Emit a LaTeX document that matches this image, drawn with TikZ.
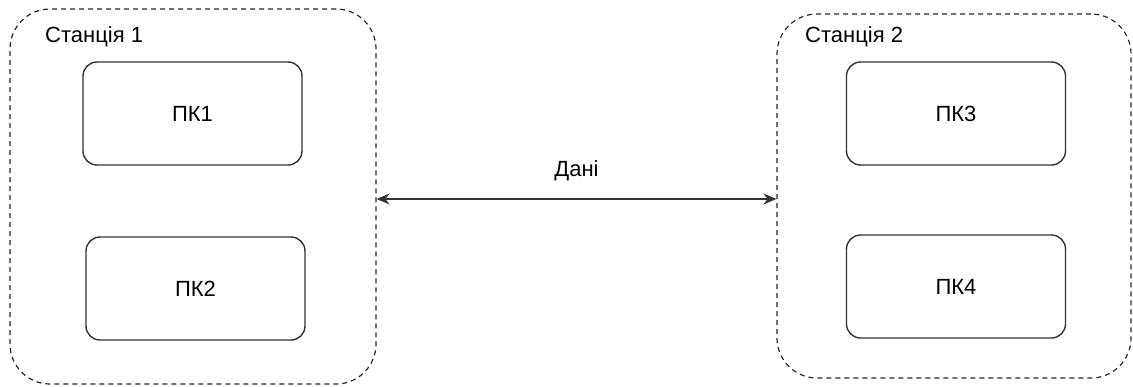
\documentclass[tikz,border=0pt]{standalone}
\usepackage{fontspec}
\setmainfont{Liberation Sans}
\usetikzlibrary{arrows.meta,positioning}

\begin{document}
\begin{tikzpicture}[
  x=1pt, y=-1pt,
  every node/.style={font=\fontsize{22}{26}\selectfont},
  station/.style={draw=black!85, dash pattern=on 5pt off 4pt, line width=1.2pt, rounded corners=40pt, inner sep=0pt},
  pc/.style={draw=black!80, line width=1.4pt, rounded corners=14pt, minimum width=219pt, minimum height=103pt},
  title/.style={anchor=west, inner sep=0pt},
  link/.style={<->, >={Stealth[length=13pt,width=11pt]}, line width=1.5pt, draw=black!80}
  ]
  \useasboundingbox (0,0) rectangle (1133,386);
  % stations
  \node[station, minimum width=366pt, minimum height=375pt] (st1) at (193,196.5) {};
  \node[station, minimum width=354pt, minimum height=364pt] (st2) at (954,196) {};
  \node[title] (t1) at (45,37) {Станція 1};
  \node[title] (t2) at (805,37) {Станція 2};
  % computers
  \node[pc] (pc1) at (192.5,113.5) {ПК1};
  \node[pc] (pc2) at (195.5,288.5) {ПК2};
  \node[pc] (pc3) at (956,113.5) {ПК3};
  \node[pc] (pc4) at (956,286.5) {ПК4};
  % data link
  \draw[link] (st1.east |- 0,199) -- node[above=14pt] (data) {Дані} (st2.west |- 0,199);
\end{tikzpicture}
\end{document}
